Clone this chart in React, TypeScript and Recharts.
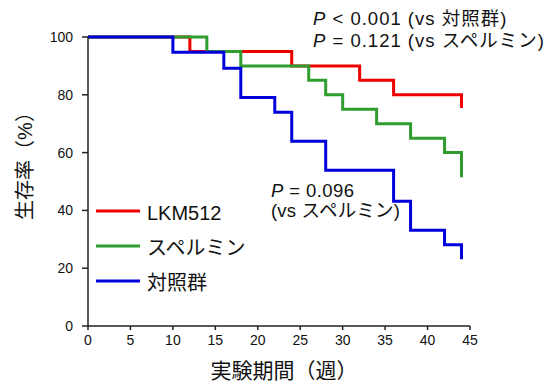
import React from 'react';
import { LineChart, Line, XAxis, YAxis } from 'recharts';

// 生存期間（週）と生存率（%）
const lkmWeeks = [0, 12, 24, 32, 36, 44];
const lkmSurvival = [100, 95, 90, 85, 80, 75.4];

const spermineWeeks = [0, 14, 18, 26, 28, 30, 34, 38, 42, 44];
const spermineSurvival = [100, 95, 90, 85, 80, 75, 70, 65, 60, 51.5];

const controlWeeks = [0, 10, 16, 18, 22, 24, 28, 36, 38, 42, 44];
const controlSurvival = [100, 94.7, 89.2, 79.1, 74, 63.9, 53.9, 43.2, 33.1, 28.1, 23.1];

const xTicks = [0, 5, 10, 15, 20, 25, 30, 35, 40, 45];
const yTicks = [0, 20, 40, 60, 80, 100];

const seriesNames = ['LKM512', 'スペルミン', '対照群'];
const seriesColors = ['#ee0000', '#2f9e2f', '#0000dd'];

const toPoints = (weeks: number[], survival: number[]) =>
  weeks.map((t, i) => ({ t, s: survival[i] }));

const series = [
  toPoints(lkmWeeks, lkmSurvival),
  toPoints(spermineWeeks, spermineSurvival),
  toPoints(controlWeeks, controlSurvival),
];

const FONT = '"Liberation Sans", Arial, "Noto Sans CJK JP", sans-serif';
const AXIS = '#222';

const PValue: React.FC<{ x: number; y: number; text: string; spacing?: number }> = ({ x, y, text, spacing = 1 }) => (
  <text x={x} y={y} fontSize={18.5} letterSpacing={spacing} fill="#111" fontFamily={FONT}>
    <tspan fontStyle="italic">P</tspan>
    <tspan>{text}</tspan>
  </text>
);

const App: React.FC = () => {
  return (
    <LineChart
      width={551}
      height={377}
      margin={{ top: 29, right: 89, bottom: 29, left: 40 }}
      style={{ fontFamily: FONT }}
    >
      <XAxis
        dataKey="t"
        type="number"
        domain={[0, 45]}
        ticks={xTicks}
        height={30}
        tickSize={4}
        tickMargin={5}
        stroke={AXIS}
        strokeWidth={1.5}
        tick={{ fill: '#111', fontSize: 14 }}
        allowDuplicatedCategory={false}
      />
      <YAxis
        dataKey="s"
        type="number"
        domain={[0, 100]}
        ticks={yTicks}
        width={40}
        tickSize={6}
        tickMargin={9}
        stroke={AXIS}
        strokeWidth={1.5}
        tick={{ fill: '#111', fontSize: 14 }}
      />
      {series.map((data, i) => (
        <Line
          key={seriesNames[i]}
          data={data}
          dataKey="s"
          name={seriesNames[i]}
          type="stepAfter"
          stroke={seriesColors[i]}
          strokeWidth={3}
          dot={false}
          activeDot={false}
          isAnimationActive={false}
        />
      ))}

      {/* 凡例 */}
      {seriesNames.map((name, i) => (
        <g key={`legend-${name}`}>
          <line x1={88} x2={132} y1={203 + i * 35} y2={203 + i * 35} stroke={seriesColors[i]} strokeWidth={3} />
          <text x={139} y={205 + i * 35} dominantBaseline="central" fontSize={20} fill="#111" fontFamily={FONT}>
            {name}
          </text>
        </g>
      ))}

      {/* 検定結果 */}
      <PValue x={305} y={17} text=" < 0.001 (vs 対照群)" />
      <PValue x={305} y={39} text=" = 0.121 (vs スペルミン)" />
      <PValue x={263} y={189} text=" = 0.096" spacing={0.4} />
      <text x={263} y={209} fontSize={18.5} letterSpacing={0.2} fill="#111" fontFamily={FONT}>
        (vs スペルミン)
      </text>

      {/* 軸ラベル */}
      <text
        x={17}
        y={153}
        transform="rotate(-90 17 153)"
        textAnchor="middle"
        dominantBaseline="central"
        fontSize={20}
        fill="#111"
        fontFamily={FONT}
      >
        生存率（%）
      </text>
      <text x={276} y={362} textAnchor="middle" dominantBaseline="central" fontSize={21} fill="#111" fontFamily={FONT}>
        実験期間（週）
      </text>
    </LineChart>
  );
};

export default App;
